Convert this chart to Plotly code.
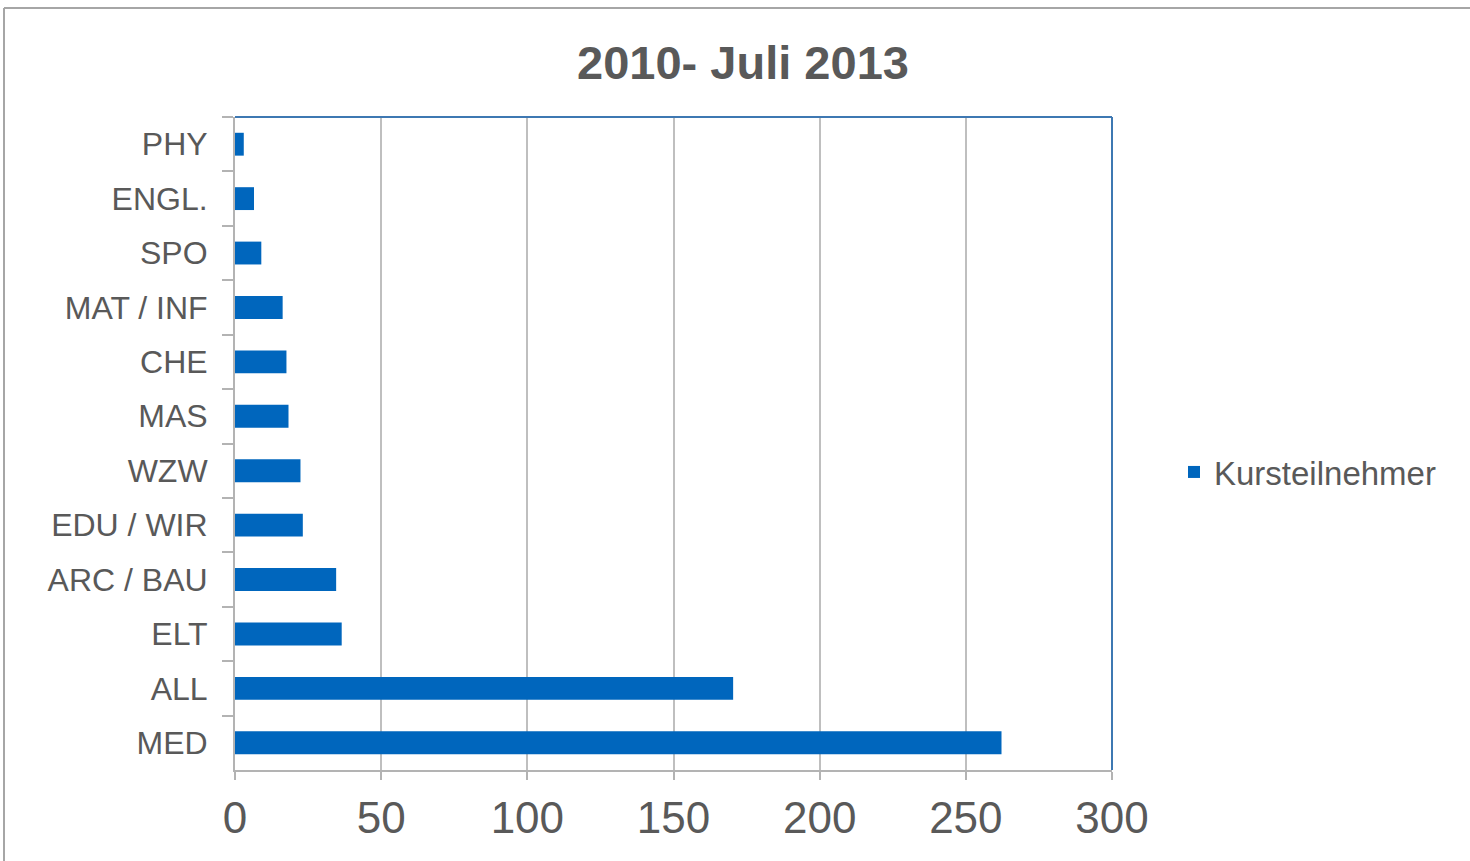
import plotly.graph_objects as go

categories = ["PHY", "ENGL.", "SPO", "MAT / INF", "CHE", "MAS", "WZW",
              "EDU / WIR", "ARC / BAU", "ELT", "ALL", "MED"]
values = [3, 6.5, 9, 16.3, 17.6, 18.3, 22.4, 23.2, 34.6, 36.5, 170.4, 262.2]
series_name = "Kursteilnehmer"
x_ticks = [0, 50, 100, 150, 200, 250, 300]

W, H = 1470, 861
L, R, T, B = 235, W - 1112, 117, H - 770
pw, ph = W - L - R, H - T - B

def px_x(x):
    return (x - L) / pw

def px_y(y):
    return (H - B - y) / ph

fig = go.Figure()
fig.add_trace(go.Bar(
    y=categories, x=values, orientation="h", name=series_name,
    marker=dict(color="#0066BD", line=dict(width=0)),
    showlegend=True,
))

font_family = "Liberation Sans, Arial, sans-serif"
fig.update_layout(
    width=W, height=H,
    margin=dict(l=L, r=R, t=T, b=B, pad=0),
    paper_bgcolor="white", plot_bgcolor="white",
    bargap=0.58,
    title=dict(text="<b>2010- Juli 2013</b>", x=(743) / W, xanchor="center",
               y=1 - 63 / H, yanchor="middle",
               font=dict(family=font_family, size=47, color="#595959")),
    xaxis=dict(range=[0, 300], tickvals=x_ticks, showgrid=True,
               gridcolor="#BFBFBF", gridwidth=2, zeroline=False,
               showline=True, linecolor="#B3B3B3", linewidth=2,
               ticks="outside", ticklen=8, tickcolor="#B3B3B3", tickwidth=2,
               tickfont=dict(family=font_family, size=44, color="#595959"),
               fixedrange=True),
    yaxis=dict(autorange="reversed", showgrid=False, zeroline=False,
               showline=True, linecolor="#B3B3B3", linewidth=2,
               ticks="outside", ticklen=11, tickcolor="#B3B3B3", tickwidth=2,
               tickson="boundaries", ticklabelstandoff=19,
               tickfont=dict(family=font_family, size=32, color="#595959"),
               fixedrange=True),
    legend=dict(x=px_x(1174), y=px_y(472), xanchor="left", yanchor="middle",
                font=dict(family=font_family, size=33, color="#595959"),
                bgcolor="rgba(0,0,0,0)", itemwidth=30),
    shapes=[
        dict(type="line", xref="paper", yref="paper", x0=0, x1=1, y0=1, y1=1,
             line=dict(color="#3E78B2", width=2)),
        dict(type="line", xref="paper", yref="paper", x0=1, x1=1, y0=0, y1=1,
             line=dict(color="#3E78B2", width=2)),
        dict(type="line", xref="paper", yref="paper", x0=px_x(4), x1=px_x(W + 10),
             y0=px_y(8), y1=px_y(8), line=dict(color="#A6A6A6", width=2)),
        dict(type="line", xref="paper", yref="paper", x0=px_x(4), x1=px_x(4),
             y0=px_y(8), y1=px_y(H + 10), line=dict(color="#A6A6A6", width=2)),
    ],
)

fig.write_html("out.html", config={"displayModeBar": False},
               post_script="document.body.style.margin='0';document.body.style.overflow='hidden';")
